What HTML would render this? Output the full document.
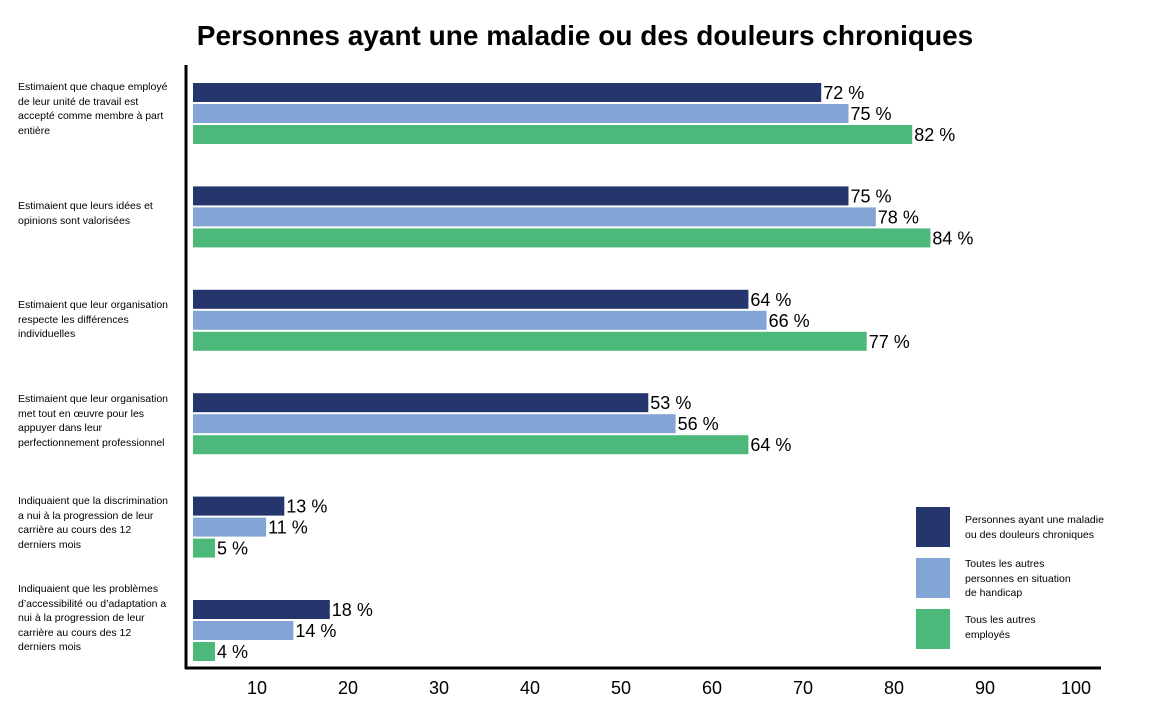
<!DOCTYPE html>
<html><head><meta charset="utf-8"><style>
body{margin:0;background:#fff;font-family:"Liberation Sans",Arial,sans-serif;}
#c{position:relative;width:1170px;height:721px;overflow:hidden;}
.t{position:absolute;left:0;width:1170px;top:20px;text-align:center;font-weight:bold;font-size:28px;color:#000;}
.cat{position:absolute;left:18px;width:150px;font-size:10.5px;line-height:14.5px;color:#000;}
.leg{position:absolute;left:916px;width:34px;height:40px;}
.lt{position:absolute;left:965px;font-size:10.5px;line-height:14.5px;}
</style></head><body>
<div id="c">
<div class="t">Personnes ayant une maladie ou des douleurs chroniques</div>
<div class="cat" style="top:80px">Estimaient que chaque employé de leur unité de travail est accepté comme membre à part entière</div>
<div class="cat" style="top:199px">Estimaient que leurs idées et opinions sont valorisées</div>
<div class="cat" style="top:298px">Estimaient que leur organisation respecte les différences individuelles</div>
<div class="cat" style="top:392px">Estimaient que leur organisation met tout en œuvre pour les appuyer dans leur perfectionnement professionnel</div>
<div class="cat" style="top:494px">Indiquaient que la discrimination a nui à la progression de leur carrière au cours des 12 derniers mois</div>
<div class="cat" style="top:582px">Indiquaient que les problèmes d’accessibilité ou d’adaptation a nui à la progression de leur carrière au cours des 12 derniers mois</div>
<div class="leg" style="top:507px;background:#24366b"></div>
<div class="lt" style="top:513px">Personnes ayant une maladie<br>ou des douleurs chroniques</div>
<div class="leg" style="top:558px;background:#83a5d5"></div>
<div class="lt" style="top:557px">Toutes les autres<br>personnes en situation<br>de handicap</div>
<div class="leg" style="top:609px;background:#4cb97b"></div>
<div class="lt" style="top:613px">Tous les autres<br>employés</div>
<svg id="s" width="1170" height="721" style="position:absolute;left:0;top:0"></svg>
</div>
<script>
const categories=["accepte","idees","respect","perfectionnement","discrimination","accessibilite"];
const chronic=[72,75,64,53,13,18];
const disability=[75,78,66,56,11,14];
const others=[82,84,77,64,5,4];
const ticks=[10,20,30,40,50,60,70,80,90,100];
const colors=["#24366b","#83a5d5","#4cb97b"];
const series=[chronic,disability,others];
const names=["chronic","disability","others"];
const NS="http://www.w3.org/2000/svg";
const svg=document.getElementById('s');
function x(v){return 166+v*9.1;}
function gy(i){return 83+i*103.4;}
function mk(t,a){const e=document.createElementNS(NS,t);for(const k in a)e.setAttribute(k,a[k]);svg.appendChild(e);return e;}
categories.forEach((c,i)=>{
 series.forEach((s,j)=>{
  const y=gy(i)+j*21;
  const w=Math.max(x(s[i])-193,22);
  const r=mk('rect',{x:193,y:y,width:w,height:19,fill:colors[j]});
  
  
  const t=mk('text',{x:193+w+2,y:y+16,'font-size':18,fill:'#000'});
  t.textContent=s[i]+' %';
  
  
 });
});
const ya=mk('line',{x1:186,y1:65,x2:186,y2:669,stroke:'#000','stroke-width':3});


const xa=mk('line',{x1:185,y1:668,x2:1101,y2:668,stroke:'#000','stroke-width':3});


ticks.forEach(v=>{
 const t=mk('text',{x:x(v),y:694,'font-size':18,'text-anchor':'middle',fill:'#000'});
 t.textContent=v;
 
 
});
</script>
</body></html>
